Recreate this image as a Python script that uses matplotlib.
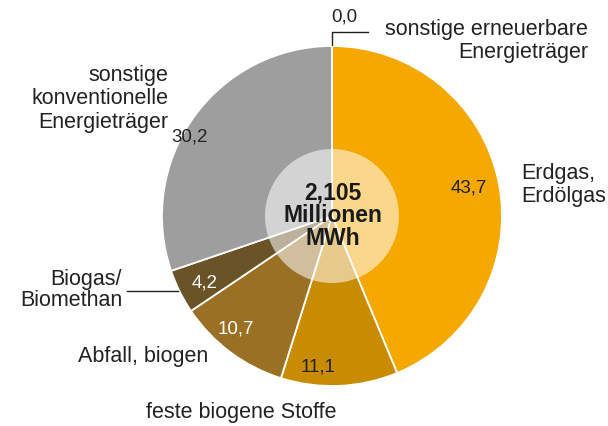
import matplotlib.pyplot as plt
from matplotlib.patches import Circle

# data
labels = ["sonstige erneuerbare Energieträger", "Erdgas, Erdölgas", "feste biogene Stoffe",
          "Abfall, biogen", "Biogas/Biomethan", "sonstige konventionelle Energieträger"]
values = [0.0, 43.7, 11.1, 10.7, 4.2, 30.2]
value_text = ["0,0", "43,7", "11,1", "10,7", "4,2", "30,2"]
colors = ["#8DB33A", "#F5A800", "#C98B00", "#9A7025", "#6B5328", "#9E9E9E"]
total_text = "2,105\nMillionen\nMWh"

W, H = 608, 427
plt.rcParams['font.family'] = ['Liberation Sans', 'DejaVu Sans']

fig = plt.figure(figsize=(W / 100, H / 100), dpi=100)
ax = fig.add_axes([0, 0, 1, 1])

cx, cy, r = 332, H - 217, 170

ax.pie(values, colors=colors, startangle=90, counterclock=False, center=(cx, cy), radius=r,
       wedgeprops=dict(edgecolor='white', linewidth=1.3), frame=True)
ax.set_xlim(0, W)
ax.set_ylim(0, H)
ax.set_aspect('equal')
ax.axis('off')

# light inner disc
ax.add_patch(Circle((cx, cy), 67, facecolor='white', alpha=0.55, edgecolor='none', zorder=3))
ax.text(cx + 1, cy + 1, total_text, ha='center', va='center', fontsize=16.5, fontweight='bold',
        color='#1a1a1a', linespacing=1.0, zorder=4)

def py(y):
    return H - y

# value labels inside slices
val_pos = {1: (469, 188, '#222222'), 2: (318, 367, '#222222'), 3: (236, 329, 'white'),
           4: (205, 283, 'white'), 5: (190, 137, '#222222')}
for i, (x, y, c) in val_pos.items():
    ax.text(x, py(y), value_text[i], ha='center', va='center', fontsize=13.5, color=c, zorder=4)

# outside labels
fs = 15.5
tc = '#222222'
ls = 1.15
ax.text(344, py(17), value_text[0], ha='center', va='center', fontsize=13.5, color=tc)
ax.plot([332, 332, 368], [py(46), py(33), py(33)], color='#222222', lw=1)
ax.text(588, py(41), "sonstige erneuerbare\nEnergieträger", ha='right', va='center',
        fontsize=fs, color=tc, linespacing=ls)
ax.text(521, py(185), "Erdgas,\nErdölgas", ha='left', va='center', fontsize=fs, color=tc,
        linespacing=ls)
ax.text(168, py(99), "sonstige\nkonventionelle\nEnergieträger", ha='right', va='center',
        fontsize=fs, color=tc, linespacing=ls)
ax.text(122, py(290), "Biogas/\nBiomethan", ha='right', va='center', fontsize=fs, color=tc,
        linespacing=1.0)
ax.plot([127, 178], [py(292), py(292)], color='#222222', lw=1)
ax.text(208, py(357), "Abfall, biogen", ha='right', va='center', fontsize=fs, color=tc)
ax.text(241, py(413), "feste biogene Stoffe", ha='center', va='center', fontsize=fs, color=tc)

fig.savefig("out.png", dpi=100)
